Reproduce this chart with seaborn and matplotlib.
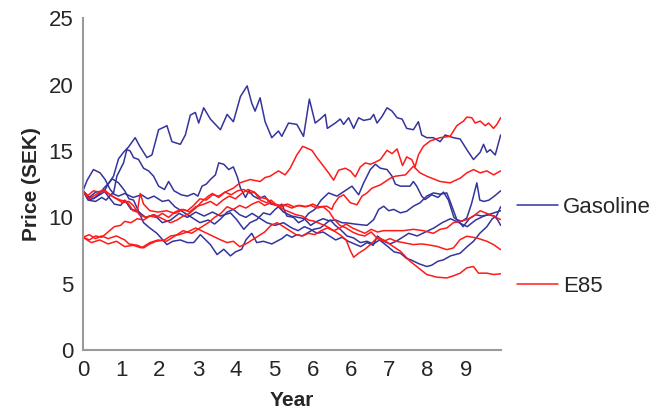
import pandas as pd
import seaborn as sns
import matplotlib.pyplot as plt

# simulated price paths: (year, price in SEK)
gasoline_1 = [(0, 12.0), (0.12, 11.6), (0.25, 11.4), (0.4, 11.8), (0.5, 12.2), (0.62, 12.6), (0.73, 13.1),
              (0.85, 14.4), (0.97, 14.9), (1.09, 15.3), (1.25, 16.0), (1.35, 15.4), (1.53, 14.5), (1.65, 14.7),
              (1.81, 16.6), (2.01, 16.9), (2.13, 15.7), (2.33, 15.5), (2.45, 16.2), (2.57, 17.7), (2.69, 17.9),
              (2.77, 17.1), (2.89, 18.25), (3.05, 17.4), (3.29, 16.6), (3.45, 17.75), (3.6, 17.2), (3.77, 19.1),
              (3.93, 19.9), (4.04, 18.6), (4.12, 18.0), (4.24, 19.0), (4.36, 17.2), (4.52, 16.0), (4.68, 16.5),
              (4.76, 16.1), (4.92, 17.1), (5.12, 17.0), (5.28, 16.1), (5.42, 18.9), (5.56, 17.1), (5.68, 17.4),
              (5.8, 17.75), (5.85, 16.7), (6.04, 17.1), (6.16, 17.4), (6.24, 17.0), (6.36, 17.5), (6.48, 16.7),
              (6.6, 17.5), (6.72, 17.3), (6.88, 17.4), (6.96, 17.75), (7.04, 17.1), (7.16, 17.6), (7.28, 18.25),
              (7.4, 18.0), (7.52, 17.5), (7.64, 17.4), (7.75, 16.7), (7.91, 16.6), (8.03, 17.2), (8.11, 16.2),
              (8.23, 16.0), (8.39, 16.0), (8.55, 15.7), (8.67, 16.2), (8.87, 16.0), (9.03, 15.9), (9.19, 15.1),
              (9.35, 14.35), (9.51, 14.9), (9.59, 15.5), (9.67, 14.9), (9.75, 15.1), (9.87, 14.7), (10.0, 16.2)]
gasoline_2 = [(0, 12.0), (0.1, 12.8), (0.25, 13.6), (0.41, 13.35), (0.53, 12.85), (0.65, 12.1), (0.73, 11.8),
              (0.81, 13.1), (0.97, 14.1), (1.05, 15.1), (1.13, 15.0), (1.21, 14.5), (1.33, 14.36), (1.45, 13.7),
              (1.57, 13.5), (1.69, 13.1), (1.81, 12.35), (1.95, 12.1), (2.05, 12.7), (2.18, 12.0), (2.35, 11.7),
              (2.5, 11.6), (2.65, 11.8), (2.75, 11.6), (2.85, 12.35), (2.95, 12.5), (3.05, 12.85), (3.17, 13.2),
              (3.25, 14.1), (3.37, 14.0), (3.49, 13.6), (3.6, 13.8), (3.7, 13.0), (3.77, 12.2), (3.89, 11.5),
              (3.97, 12.0), (4.08, 11.6), (4.2, 11.4), (4.35, 11.6), (4.5, 11.0), (4.65, 10.9), (4.8, 10.4),
              (5.0, 10.1), (5.15, 10.0), (5.3, 9.9), (5.45, 9.4), (5.6, 9.7), (5.75, 9.9), (5.88, 9.75),
              (6.05, 9.8), (6.2, 9.6), (6.32, 9.58), (6.5, 9.5), (6.64, 9.45), (6.8, 9.4), (6.96, 9.83),
              (7.08, 10.6), (7.2, 10.84), (7.32, 10.5), (7.44, 10.6), (7.6, 10.34), (7.75, 10.46), (7.91, 10.84),
              (8.07, 11.1), (8.23, 11.6), (8.39, 11.84), (8.55, 11.75), (8.71, 11.84), (8.79, 11.2), (8.95, 9.83),
              (9.07, 9.7), (9.19, 9.96), (9.3, 11.0), (9.43, 12.6), (9.5, 11.3), (9.6, 11.2), (9.72, 11.3),
              (9.85, 11.6), (10.0, 12.0)]
gasoline_3 = [(0, 12.0), (0.15, 11.3), (0.3, 11.5), (0.5, 11.9), (0.6, 12.5), (0.7, 12.9), (0.85, 12.6),
              (1.0, 12.0), (1.1, 11.4), (1.21, 11.3), (1.45, 9.6), (1.6, 9.2), (1.77, 8.8), (2.01, 7.95),
              (2.15, 8.2), (2.33, 8.3), (2.5, 8.1), (2.65, 8.1), (2.81, 8.7), (3.05, 7.95), (3.21, 7.2),
              (3.37, 7.6), (3.53, 7.1), (3.65, 7.4), (3.8, 7.6), (3.9, 8.3), (4.04, 8.8), (4.16, 8.1),
              (4.32, 8.2), (4.52, 8.0), (4.64, 8.2), (4.76, 8.4), (4.88, 8.7), (5.0, 8.5), (5.12, 8.7),
              (5.25, 8.6), (5.36, 8.8), (5.52, 9.1), (5.68, 9.2), (5.84, 9.6), (5.92, 9.8), (6.04, 9.4),
              (6.16, 9.1), (6.32, 8.6), (6.48, 8.45), (6.64, 8.1), (6.8, 8.2), (6.95, 8.0), (7.1, 8.3),
              (7.3, 7.8), (7.45, 7.4), (7.6, 7.3), (7.75, 6.9), (7.85, 6.8), (8.05, 6.5), (8.23, 6.3),
              (8.35, 6.4), (8.5, 6.7), (8.63, 6.8), (8.8, 7.1), (9.03, 7.3), (9.2, 7.8), (9.35, 8.2),
              (9.5, 8.8), (9.67, 9.3), (9.8, 9.9), (9.9, 10.1), (10.0, 10.8)]
gasoline_4 = [(0, 12.0), (0.15, 11.5), (0.3, 11.9), (0.5, 12.0), (0.6, 11.6), (0.75, 11.0), (0.9, 10.9),
              (1.0, 11.3), (1.15, 10.6), (1.3, 10.5), (1.5, 10.0), (1.7, 10.2), (1.9, 9.6), (2.1, 9.8),
              (2.3, 10.3), (2.5, 10.0), (2.7, 10.4), (2.9, 10.1), (3.1, 10.4), (3.29, 10.1), (3.53, 10.34),
              (3.68, 9.83), (3.85, 9.1), (4.0, 9.6), (4.16, 9.83), (4.32, 10.34), (4.48, 10.2), (4.6, 10.6),
              (4.76, 11.0), (4.88, 10.1), (5.04, 10.0), (5.16, 9.6), (5.28, 9.8), (5.4, 10.3), (5.55, 10.6),
              (5.7, 11.3), (5.88, 11.84), (6.08, 11.6), (6.32, 12.1), (6.44, 12.35), (6.6, 11.7), (6.72, 12.6),
              (6.88, 13.6), (7.0, 14.0), (7.12, 13.7), (7.28, 13.6), (7.4, 13.1), (7.48, 12.5), (7.6, 12.35),
              (7.83, 12.35), (7.91, 12.7), (7.99, 12.35), (8.11, 11.6), (8.19, 11.34), (8.35, 11.7), (8.5, 11.5),
              (8.63, 11.9), (8.75, 11.3), (8.88, 10.0), (9.0, 9.7), (9.1, 9.3), (9.25, 9.9), (9.4, 10.2),
              (9.55, 10.1), (9.7, 10.2), (9.85, 10.1), (9.93, 9.8), (10.0, 9.4)]
gasoline_5 = [(0, 12.0), (0.12, 11.3), (0.3, 11.2), (0.45, 11.5), (0.55, 11.3), (0.7, 11.8), (0.85, 11.6),
              (1.0, 11.8), (1.2, 11.5), (1.4, 11.7), (1.55, 11.4), (1.7, 11.6), (1.9, 11.2), (2.05, 11.3),
              (2.2, 10.8), (2.4, 10.4), (2.6, 10.0), (2.8, 9.6), (3.0, 9.8), (3.15, 9.5), (3.3, 9.9),
              (3.45, 10.4), (3.6, 10.6), (3.75, 10.2), (3.9, 10.0), (4.05, 10.3), (4.2, 10.0), (4.4, 9.6),
              (4.6, 9.4), (4.8, 9.6), (5.0, 9.2), (5.15, 9.0), (5.3, 9.3), (5.45, 9.1), (5.6, 8.8),
              (5.75, 8.9), (5.9, 8.6), (6.05, 8.3), (6.2, 8.5), (6.35, 8.2), (6.5, 8.0), (6.65, 7.8),
              (6.8, 8.1), (6.95, 7.9), (7.05, 8.6), (7.2, 8.2), (7.35, 8.0), (7.5, 8.2), (7.65, 8.5),
              (7.8, 8.8), (8.0, 8.6), (8.2, 8.9), (8.4, 9.2), (8.6, 9.6), (8.8, 9.9), (9.0, 9.6),
              (9.2, 9.3), (9.4, 9.8), (9.6, 10.1), (9.8, 10.3), (10.0, 10.5)]

e85_1 = [(0, 8.5), (0.15, 8.3), (0.3, 8.6), (0.45, 8.5), (0.6, 8.9), (0.75, 9.3), (0.9, 9.4), (1.0, 9.7),
         (1.15, 9.6), (1.3, 9.9), (1.45, 9.8), (1.6, 10.1), (1.75, 10.0), (1.9, 10.3), (2.05, 10.0),
         (2.2, 10.4), (2.35, 10.6), (2.5, 10.5), (2.65, 10.9), (2.8, 11.4), (2.95, 11.3), (3.1, 11.7),
         (3.25, 11.6), (3.4, 11.9), (3.6, 12.2), (3.76, 12.6), (4.0, 12.85), (4.24, 12.7), (4.36, 13.0),
         (4.48, 13.1), (4.68, 13.5), (4.84, 13.2), (4.96, 13.7), (5.12, 14.7), (5.26, 15.35), (5.37, 15.2),
         (5.48, 15.05), (5.6, 14.5), (5.76, 13.85), (5.88, 13.35), (6.0, 12.8), (6.12, 13.55), (6.28, 13.7),
         (6.4, 13.5), (6.52, 13.05), (6.64, 13.8), (6.76, 14.1), (6.88, 14.0), (6.96, 14.1), (7.12, 14.35),
         (7.28, 15.05), (7.4, 14.8), (7.52, 15.15), (7.65, 13.9), (7.75, 14.55), (7.87, 14.35), (7.95, 13.8),
         (8.03, 14.7), (8.15, 15.35), (8.31, 15.75), (8.55, 16.0), (8.79, 16.1), (8.95, 16.9), (9.11, 17.25),
         (9.19, 17.55), (9.31, 17.5), (9.39, 17.1), (9.51, 17.25), (9.63, 16.9), (9.71, 17.1), (9.83, 16.7),
         (9.91, 17.0), (10.0, 17.5)]
e85_2 = [(0, 12.0), (0.1, 11.6), (0.25, 12.0), (0.4, 11.9), (0.5, 12.1), (0.65, 11.7), (0.8, 11.4),
         (0.95, 11.1), (1.1, 11.2), (1.2, 10.9), (1.35, 10.2), (1.5, 10.0), (1.7, 10.2), (1.9, 9.9),
         (2.1, 9.6), (2.25, 9.8), (2.4, 10.1), (2.55, 10.3), (2.7, 10.7), (2.85, 11.2), (3.0, 11.6),
         (3.1, 11.8), (3.25, 11.5), (3.4, 11.9), (3.55, 11.7), (3.7, 12.0), (3.85, 12.1), (4.0, 11.8),
         (4.1, 11.9), (4.25, 11.3), (4.4, 11.1), (4.5, 11.3), (4.65, 10.9), (4.8, 10.6), (4.95, 10.4),
         (5.1, 10.2), (5.25, 10.1), (5.4, 9.8), (5.55, 9.7), (5.7, 9.5), (5.85, 9.3), (6.0, 9.0),
         (6.15, 8.7), (6.3, 8.3), (6.4, 7.5), (6.48, 7.0), (6.6, 7.3), (6.75, 7.6), (6.9, 8.0),
         (7.05, 8.5), (7.2, 8.3), (7.36, 7.95), (7.6, 7.45), (7.83, 6.7), (7.99, 6.3), (8.23, 5.7),
         (8.47, 5.5), (8.71, 5.44), (8.87, 5.6), (9.03, 5.8), (9.19, 6.2), (9.35, 6.3), (9.47, 5.8),
         (9.67, 5.8), (9.83, 5.7), (10.0, 5.75)]
e85_3 = [(0, 12.0), (0.15, 11.4), (0.3, 11.7), (0.45, 12.0), (0.6, 11.8), (0.75, 11.5), (0.9, 11.3),
         (1.05, 11.2), (1.2, 10.5), (1.3, 10.4), (1.37, 11.8), (1.45, 11.0), (1.6, 10.5), (1.8, 10.4),
         (2.0, 10.5), (2.2, 10.3), (2.4, 10.6), (2.55, 10.4), (2.7, 10.8), (2.9, 11.0), (3.05, 11.2),
         (3.2, 10.9), (3.35, 11.3), (3.5, 11.6), (3.65, 11.4), (3.8, 11.8), (3.95, 12.1), (4.1, 11.9),
         (4.25, 11.5), (4.4, 11.4), (4.55, 11.0), (4.75, 10.9), (4.9, 11.0), (5.05, 10.8), (5.2, 10.9),
         (5.35, 10.8), (5.5, 11.0), (5.65, 10.8), (5.84, 10.84), (5.96, 10.6), (6.0, 10.95), (6.12, 11.5),
         (6.24, 11.7), (6.4, 11.1), (6.56, 10.95), (6.68, 11.6), (6.8, 11.84), (6.92, 12.2), (7.12, 12.45),
         (7.36, 12.95), (7.48, 13.1), (7.72, 13.2), (7.91, 13.85), (8.07, 13.35), (8.23, 13.1), (8.55, 12.7),
         (8.79, 12.6), (9.03, 12.95), (9.19, 13.35), (9.35, 13.6), (9.51, 13.35), (9.67, 13.5), (9.83, 13.2),
         (10.0, 13.5)]
e85_4 = [(0, 8.5), (0.15, 8.7), (0.3, 8.4), (0.45, 8.6), (0.6, 8.4), (0.8, 8.6), (1.0, 8.3), (1.1, 8.0),
         (1.3, 7.9), (1.45, 7.7), (1.6, 8.0), (1.75, 8.2), (1.95, 8.3), (2.1, 8.6), (2.3, 8.7), (2.5, 8.9),
         (2.7, 9.2), (2.9, 8.9), (3.1, 8.6), (3.3, 8.3), (3.45, 8.1), (3.6, 8.2), (3.75, 7.8), (3.9, 8.0),
         (4.05, 8.3), (4.2, 8.6), (4.35, 8.9), (4.5, 9.4), (4.65, 9.6), (4.8, 9.3), (4.95, 9.0), (5.1, 8.7),
         (5.25, 8.6), (5.4, 8.8), (5.55, 8.7), (5.7, 9.0), (5.85, 9.2), (6.0, 9.0), (6.15, 9.2), (6.3, 9.5),
         (6.45, 9.2), (6.6, 9.0), (6.75, 8.8), (6.9, 9.1), (7.05, 8.9), (7.2, 9.0), (7.43, 9.0), (7.67, 9.0),
         (7.91, 9.1), (8.15, 9.0), (8.39, 8.8), (8.55, 9.1), (8.71, 9.2), (8.87, 9.6), (9.03, 9.7),
         (9.19, 9.83), (9.35, 10.1), (9.51, 10.5), (9.67, 10.3), (9.83, 10.1), (10.0, 9.83)]
e85_5 = [(0, 8.5), (0.2, 8.1), (0.4, 8.3), (0.6, 8.0), (0.8, 8.2), (1.0, 7.8), (1.2, 7.9), (1.4, 7.7),
         (1.6, 8.1), (1.8, 8.3), (2.0, 8.2), (2.2, 8.6), (2.4, 9.0), (2.6, 8.8), (2.8, 9.2), (3.0, 9.6),
         (3.15, 10.0), (3.3, 10.3), (3.45, 10.8), (3.6, 10.6), (3.75, 10.9), (3.9, 10.7), (4.05, 11.0),
         (4.2, 11.2), (4.35, 10.9), (4.5, 11.1), (4.7, 10.8), (4.85, 10.9), (5.0, 10.7), (5.15, 10.9),
         (5.3, 10.8), (5.45, 10.9), (5.6, 10.7), (5.75, 10.8), (5.9, 10.4), (6.0, 9.9), (6.15, 9.4),
         (6.3, 9.2), (6.45, 8.9), (6.6, 8.7), (6.75, 8.6), (6.9, 8.9), (7.05, 8.4), (7.2, 8.2), (7.35, 8.4),
         (7.5, 8.2), (7.67, 8.1), (7.91, 7.95), (8.1, 8.0), (8.23, 7.95), (8.47, 7.82), (8.71, 7.57),
         (8.87, 7.7), (9.03, 8.33), (9.19, 8.58), (9.43, 8.45), (9.67, 8.2), (9.83, 7.95), (10.0, 7.57)]

# ticks every 11 months, labels rounded to whole years as in the source
xtick_pos = [0, 0.917, 1.833, 2.75, 3.667, 4.583, 5.5, 6.417, 7.333, 8.25, 9.167]
xtick_labels = ['0', '1', '2', '3', '4', '5', '6', '6', '7', '8', '9']
yticks = [0, 5, 10, 15, 20, 25]

runs = {'Gasoline': [gasoline_1, gasoline_2, gasoline_3, gasoline_4, gasoline_5],
        'E85': [e85_1, e85_2, e85_3, e85_4, e85_5]}
rows = []
for fuel, paths in runs.items():
    for i, path in enumerate(paths):
        for year, price in path:
            rows.append({'year': year, 'price': price, 'fuel': fuel, 'run': f'{fuel}_{i}'})
df = pd.DataFrame(rows)

sns.set_style('white')
plt.rcParams['font.family'] = ['Liberation Sans', 'DejaVu Sans']

fig = plt.figure(figsize=(6.64, 4.12), dpi=100)
ax = fig.add_axes([0.125, 0.150, 0.629, 0.806])

sns.lineplot(data=df, x='year', y='price', hue='fuel', units='run', estimator=None, sort=False,
             palette={'Gasoline': '#34349c', 'E85': '#ff1a1a'}, linewidth=1.1, ax=ax)

ax.set_xlim(0, 10)
ax.set_ylim(0, 25)
ax.set_xticks(xtick_pos)
ax.set_xticklabels(xtick_labels)
ax.set_yticks(yticks)
ax.set_xlabel('Year', fontsize=15, fontweight='bold', labelpad=7)
ax.set_ylabel('Price (SEK)', fontsize=15, fontweight='bold', labelpad=5)

sns.despine(ax=ax)
for side in ['left', 'bottom']:
    ax.spines[side].set_color('#9a9a9a')
    ax.spines[side].set_linewidth(1.5)
ax.tick_params(axis='both', direction='out', length=5, width=1.5, color='#9a9a9a',
               labelsize=16, pad=2)

handles, labels = ax.get_legend_handles_labels()
ax.legend(handles, labels, loc='upper left', bbox_to_anchor=(0.779, 0.522), bbox_transform=fig.transFigure,
          frameon=False, fontsize=16, handlelength=1.85, handletextpad=0.2, labelspacing=2.6,
          borderpad=0, borderaxespad=0)

plt.savefig('out.png', dpi=100)
